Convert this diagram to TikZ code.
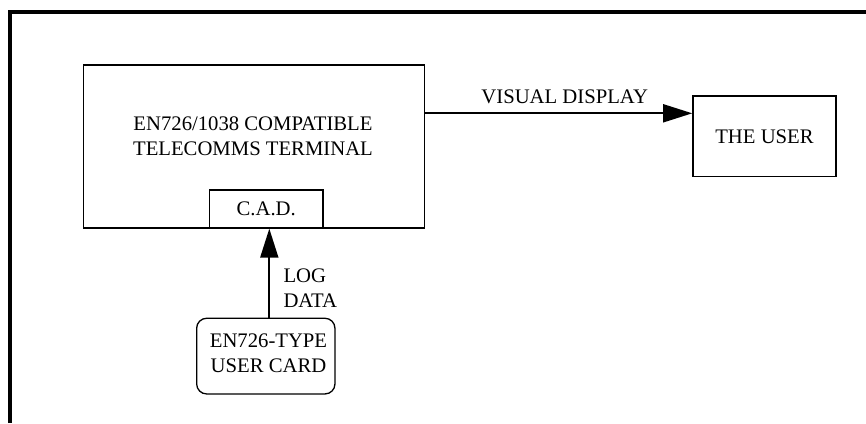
\documentclass[tikz,border=0pt]{standalone}
\usepackage{fontspec}
\setmainfont{Liberation Serif}
\usetikzlibrary{arrows.meta}
\begin{document}
\begin{tikzpicture}[x=1pt,y=-1pt,
  every node/.style={font=\fontsize{20.7}{25}\selectfont, inner sep=0pt},
  box/.style={draw, rectangle, line width=1.3pt},
  arr/.style={line width=1.8pt, -{Triangle[length=29pt,width=18pt]}},
  txt/.style={align=center}]
\useasboundingbox (0,0) rectangle (866,423);
% outer frame
\draw[line width=4pt] (10,423) -- (10,12) -- (866,12);
% main terminal box
\node[box, minimum width=341pt, minimum height=163pt] (main) at (254,146.5) {};
\node[txt, anchor=north] (maintext) at (253,117) {EN726/1038 COMPATIBLE\\TELECOMMS TERMINAL};
% C.A.D. box
\node[box, minimum width=113.5pt, minimum height=38pt] (cad) at (266.25,209) {C.A.D.};
% user box
\node[box, line width=1.6pt, minimum width=143pt, minimum height=80.7pt] (user) at (764.5,136.3) {THE USER};
% user card
\node[box, rounded corners=10pt, minimum width=138.3pt, minimum height=75.7pt] (card) at (265.8,356.1) {};
\node[txt, anchor=north] (cardtext) at (268.5,333.3) {EN726-TYPE\\USER CARD};
% connectors
\coordinate (vis) at (0,113.3);
\coordinate (logx) at (269.3,0);
\draw[arr] (main.east |- vis) -- (user.west |- vis);
\draw[arr] (card.north -| logx) -- (cad.south -| logx);
% labels
\node[anchor=base] (vislabel) at (564.7,103.3) {VISUAL DISPLAY};
\node[align=left, anchor=north west] (loglabel) at (283.3,268.3) {LOG\\DATA};
\end{tikzpicture}
\end{document}
